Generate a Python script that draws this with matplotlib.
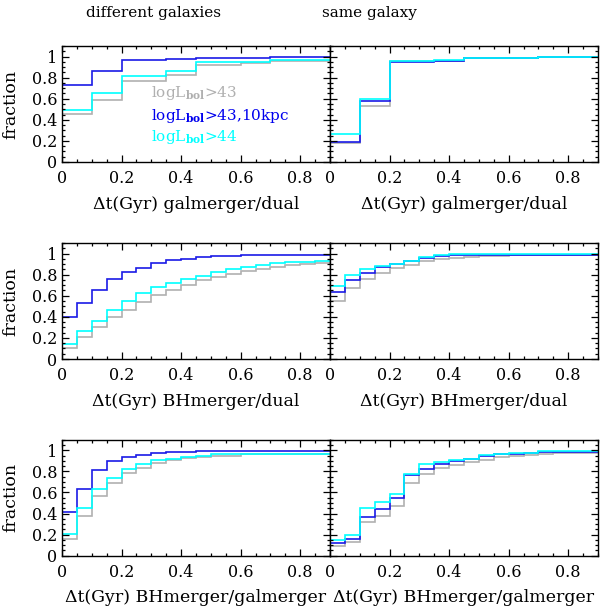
import numpy as np
import matplotlib
matplotlib.use("Agg")
import matplotlib.pyplot as plt
from matplotlib.ticker import MultipleLocator, FixedLocator

plt.rcParams['font.family'] = ['DejaVu Serif']
plt.rcParams['mathtext.fontset'] = 'dejavuserif'

# bin edges (Gyr)
edges = [0.0, 0.05, 0.1, 0.15, 0.2, 0.25, 0.3, 0.35, 0.4, 0.45,
         0.5, 0.55, 0.6, 0.65, 0.7, 0.75, 0.8, 0.85, 0.9]

# row 1: galmerger/dual
gal_diff_gray = [0.454, 0.454, 0.59, 0.59, 0.771, 0.771, 0.771, 0.829, 0.829,
                 0.924, 0.924, 0.924, 0.94, 0.94, 0.96, 0.96, 0.96, 0.96]
gal_diff_blue = [0.733, 0.733, 0.867, 0.867, 0.965, 0.965, 0.965, 0.975, 0.975,
                 0.99, 0.99, 0.99, 0.99, 0.99, 1.0, 1.0, 1.0, 1.0]
gal_diff_cyan = [0.495, 0.495, 0.654, 0.654, 0.813, 0.813, 0.813, 0.86, 0.86,
                 0.949, 0.949, 0.949, 0.952, 0.952, 0.971, 0.971, 0.971, 0.971]
gal_same_gray = [0.184, 0.184, 0.533, 0.533, 0.955, 0.955, 0.955, 0.962, 0.962,
                 0.985, 0.985, 0.985, 0.985, 0.985, 0.995, 0.995, 0.995, 0.995]
gal_same_blue = [0.194, 0.194, 0.581, 0.581, 0.949, 0.949, 0.949, 0.962, 0.962,
                 0.99, 0.99, 0.99, 0.99, 0.99, 1.0, 1.0, 1.0, 1.0]
gal_same_cyan = [0.267, 0.267, 0.597, 0.597, 0.959, 0.959, 0.959, 0.968, 0.968,
                 0.99, 0.99, 0.99, 0.99, 0.99, 1.0, 1.0, 1.0, 1.0]

# row 2: BHmerger/dual
bh_diff_gray = [0.101, 0.211, 0.306, 0.394, 0.464, 0.542, 0.605, 0.659, 0.706,
                0.747, 0.779, 0.81, 0.833, 0.855, 0.874, 0.889, 0.905, 0.915]
bh_diff_blue = [0.394, 0.527, 0.653, 0.754, 0.823, 0.864, 0.915, 0.937, 0.95,
                0.965, 0.975, 0.975, 0.984, 0.984, 0.99, 0.99, 0.99, 0.99]
bh_diff_cyan = [0.139, 0.268, 0.363, 0.46, 0.549, 0.628, 0.681, 0.722, 0.763,
                0.785, 0.823, 0.851, 0.873, 0.896, 0.911, 0.917, 0.924, 0.93]
bh_same_gray = [0.552, 0.678, 0.757, 0.817, 0.864, 0.896, 0.93, 0.952, 0.962,
                0.971, 0.977, 0.977, 0.984, 0.984, 0.99, 0.99, 0.99, 0.99]
bh_same_blue = [0.637, 0.747, 0.817, 0.874, 0.899, 0.927, 0.955, 0.974, 0.984,
                0.984, 0.99, 0.99, 0.99, 0.99, 0.99, 0.99, 0.99, 0.99]
bh_same_cyan = [0.691, 0.801, 0.855, 0.886, 0.905, 0.93, 0.968, 0.984, 0.995,
                0.995, 0.995, 0.995, 0.995, 0.995, 0.995, 0.995, 0.995, 0.995]

# row 3: BHmerger/galmerger
bg_diff_gray = [0.155, 0.375, 0.565, 0.691, 0.78, 0.833, 0.88, 0.908, 0.924,
                0.94, 0.95, 0.95, 0.96, 0.96, 0.969, 0.969, 0.969, 0.969]
bg_diff_blue = [0.41, 0.634, 0.817, 0.902, 0.94, 0.959, 0.975, 0.98, 0.98,
                0.99, 0.99, 0.99, 0.996, 0.996, 0.996, 0.996, 0.996, 0.996]
bg_diff_cyan = [0.205, 0.451, 0.637, 0.741, 0.826, 0.874, 0.905, 0.921, 0.937,
                0.95, 0.96, 0.96, 0.969, 0.969, 0.969, 0.969, 0.969, 0.969]
bg_same_gray = [0.092, 0.127, 0.316, 0.379, 0.47, 0.685, 0.773, 0.836, 0.861,
                0.884, 0.912, 0.937, 0.946, 0.956, 0.969, 0.975, 0.975, 0.975]
bg_same_blue = [0.117, 0.155, 0.369, 0.439, 0.543, 0.763, 0.826, 0.874, 0.899,
                0.921, 0.95, 0.962, 0.968, 0.975, 0.981, 0.981, 0.981, 0.981]
bg_same_cyan = [0.149, 0.193, 0.448, 0.508, 0.581, 0.779, 0.87, 0.889, 0.905,
                0.921, 0.956, 0.969, 0.975, 0.975, 0.991, 0.991, 0.991, 0.991]

xlabels = ['Δt(Gyr) galmerger/dual', 'Δt(Gyr) BHmerger/dual',
           'Δt(Gyr) BHmerger/galmerger']
panels = [
    [(gal_diff_gray, gal_diff_blue, gal_diff_cyan), (gal_same_gray, gal_same_blue, gal_same_cyan)],
    [(bh_diff_gray, bh_diff_blue, bh_diff_cyan), (bh_same_gray, bh_same_blue, bh_same_cyan)],
    [(bg_diff_gray, bg_diff_blue, bg_diff_cyan), (bg_same_gray, bg_same_blue, bg_same_cyan)],
]
colors = ['#b0b0b0', '#1a1ae6', '#00ffff']

fig = plt.figure(figsize=(6.0, 6.08), dpi=100)
lefts = [62 / 600, 330 / 600]
w = 268 / 600
bottoms = [1 - 162 / 608, 1 - 359 / 608, 1 - 555.7 / 608]
h = 116 / 608

for r in range(3):
    for c in range(2):
        ax = fig.add_axes([lefts[c], bottoms[r], w, h])
        for vals, col in zip(panels[r][c], colors):
            ax.stairs(vals, edges, baseline=None, color=col, lw=1.2)
        ax.set_xlim(0, 0.9)
        ax.set_ylim(0, 1.1)
        ax.xaxis.set_major_locator(FixedLocator([0, 0.2, 0.4, 0.6, 0.8]))
        ax.xaxis.set_minor_locator(MultipleLocator(0.05))
        ax.yaxis.set_major_locator(FixedLocator([0, 0.2, 0.4, 0.6, 0.8, 1.0]))
        ax.yaxis.set_minor_locator(MultipleLocator(0.05))
        ax.tick_params(which='both', direction='in', top=True, right=True,
                       labelsize=11.5, width=0.9)
        ax.tick_params(which='major', length=5)
        ax.tick_params(which='minor', length=2.5)
        ax.tick_params(axis='x', pad=6)
        ax.set_xticklabels(['0', '0.2', '0.4', '0.6', '0.8'])
        if c == 0:
            ax.set_yticklabels(['0', '0.2', '0.4', '0.6', '0.8', '1'])
            ax.set_ylabel('fraction', fontsize=12.5, labelpad=9)
        else:
            ax.set_yticklabels([])
        ax.set_xlabel(xlabels[r], fontsize=12.5, labelpad=6)
        for s in ax.spines.values():
            s.set_linewidth(1.0)
        if r == 0 and c == 0:
            ax.text(0.3, 0.65, r'logL$_{\mathbf{bol}}$>43', color=colors[0],
                    fontsize=11, va='center')
            ax.text(0.3, 0.44, r'logL$_{\mathbf{bol}}$>43,10kpc', color='#0000ee',
                    fontsize=11, va='center')
            ax.text(0.3, 0.24, r'logL$_{\mathbf{bol}}$>44', color=colors[2],
                    fontsize=11, va='center')

fig.text(154 / 600, 1 - 13 / 608, 'different galaxies', ha='center', va='center', fontsize=11)
fig.text(369 / 600, 1 - 13 / 608, 'same galaxy', ha='center', va='center', fontsize=11)

fig.savefig('out.png', dpi=100)
